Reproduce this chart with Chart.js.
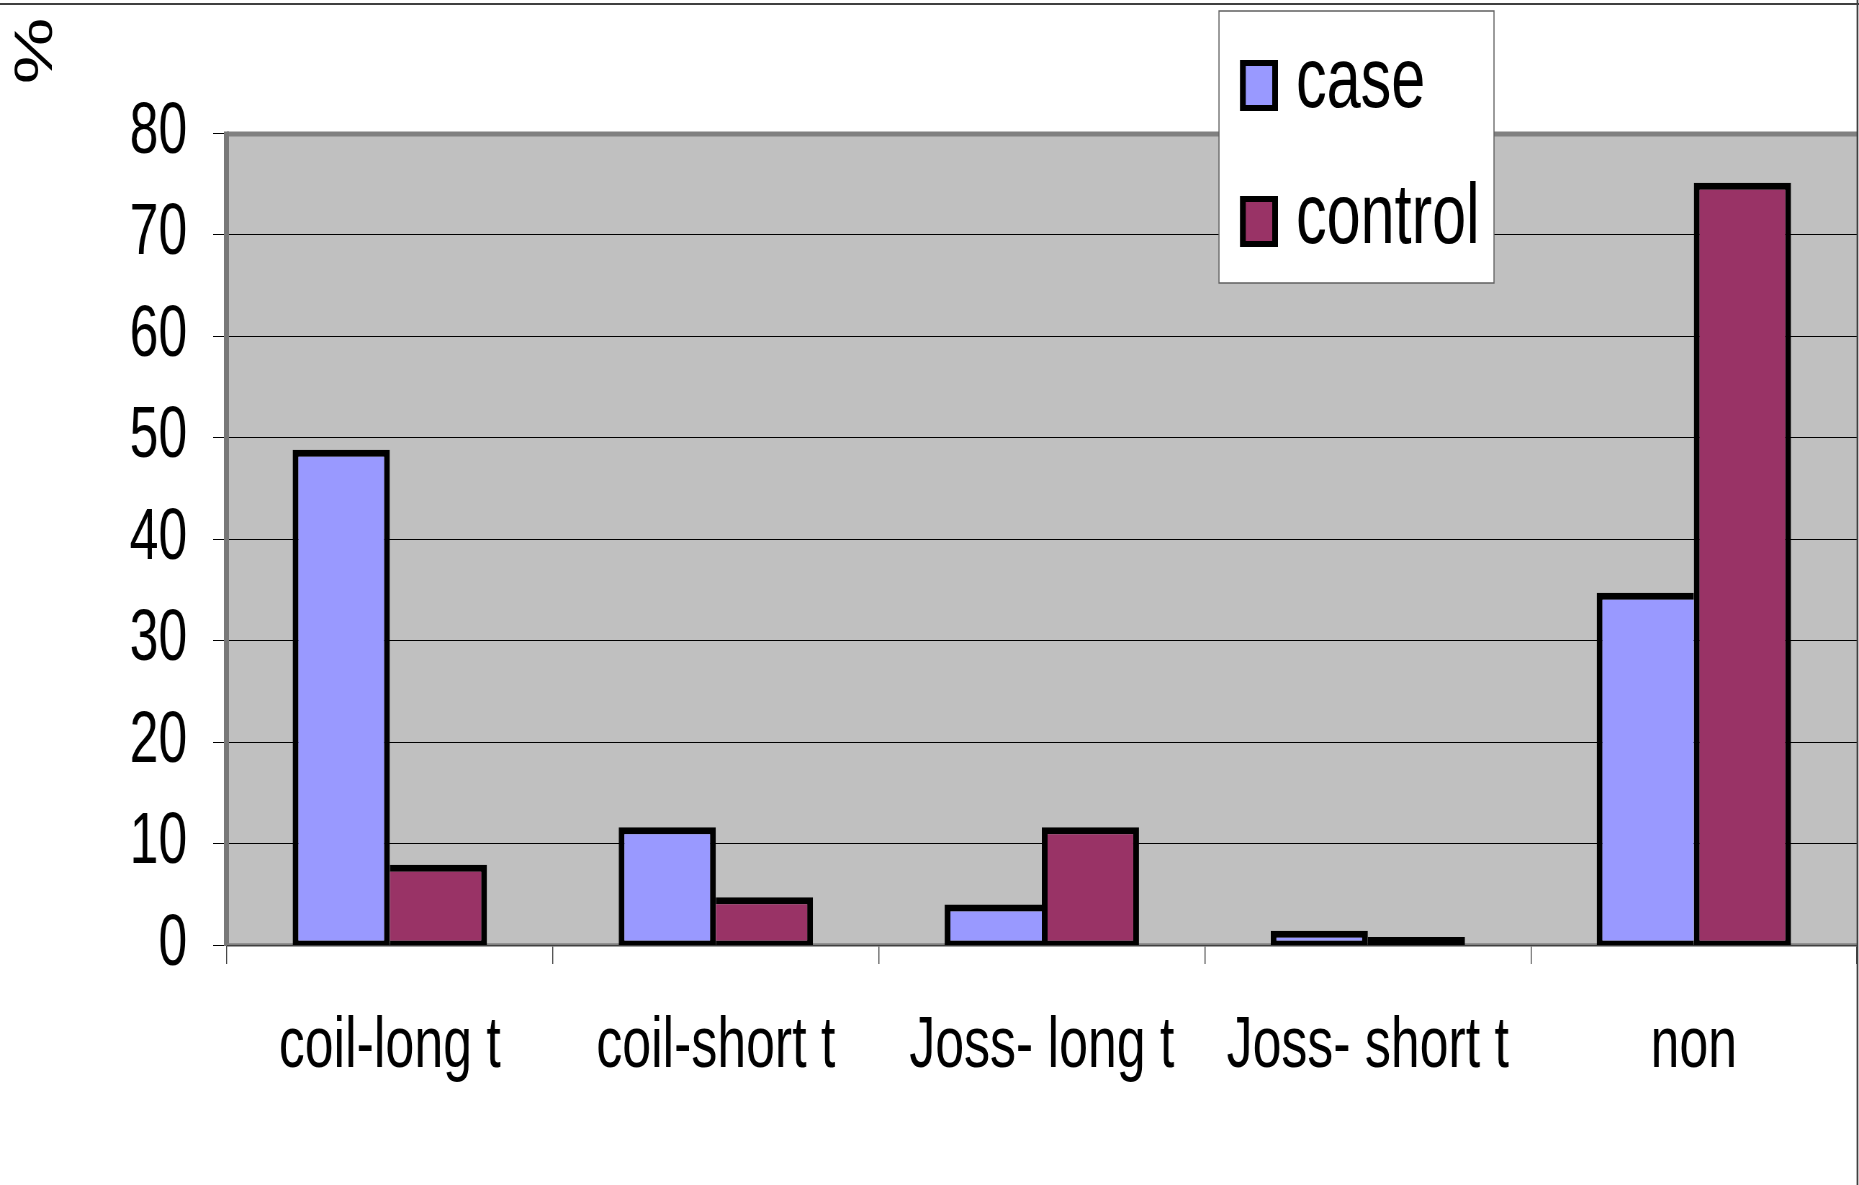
<!DOCTYPE html>
<html>
<head>
<meta charset="utf-8">
<script src="https://cdn.jsdelivr.net/npm/chart.js@4.4.1/dist/chart.umd.min.js"></script>
<style>
  html, body { margin: 0; padding: 0; background: #fff; overflow: hidden; }
  #chart { display: block; }
</style>
</head>
<body>
<canvas id="chart" width="2582" height="1185" style="width:1859px;height:1185px"></canvas>
<script>
const categories = ['coil-long t', 'coil-short t', 'Joss- long t', 'Joss- short t', 'non'];
const caseValues = [48.8, 11.6, 4.0, 1.4, 34.7];
const controlValues = [7.9, 4.7, 11.6, 0.8, 75.1];
const yTicks = [0, 10, 20, 30, 40, 50, 60, 70, 80];
const seriesNames = ['case', 'control'];
const seriesColors = ['#9999FF', '#993366'];
const unitLabel = '%';

// the source picture is squeezed sideways: draw on a wider canvas, show it at 1859px
const SQUEEZE = 0.72;
const sx = v => v / SQUEEZE;

const FONT = "'Liberation Sans', Arial, sans-serif";
const SIDE_W = 8;   // vertical bar edges (canvas px, get squeezed)
const CAP_W = 7;    // top / bottom bar edges

// the taller bar of a pair owns the shared edge, like the excel original
function barBorder(ctx) {
    const i = ctx.dataIndex;
    const c = caseValues[i], k = controlValues[i];
    if (ctx.datasetIndex === 0) {
        return {top: CAP_W, bottom: CAP_W, left: SIDE_W, right: c >= k ? SIDE_W : 0};
    }
    return {top: CAP_W, bottom: CAP_W, left: k > c ? SIDE_W : 0, right: SIDE_W};
}

function hline(ctx, x1, x2, y) {
    ctx.beginPath();
    ctx.moveTo(x1, y);
    ctx.lineTo(x2, y);
    ctx.stroke();
}

function vline(ctx, x, y1, y2) {
    ctx.beginPath();
    ctx.moveTo(x, y1);
    ctx.lineTo(x, y2);
    ctx.stroke();
}

const plotFrame = {
    id: 'plotFrame',
    beforeDraw(chart) {
        const {ctx, chartArea: a} = chart;
        ctx.save();
        ctx.fillStyle = '#C0C0C0';
        ctx.fillRect(a.left, a.top, a.right - a.left, a.bottom - a.top);
        ctx.restore();
    },
    beforeDatasetsDraw(chart) {
        const {ctx, chartArea: a} = chart;
        ctx.save();
        ctx.strokeStyle = '#808080';
        ctx.lineWidth = 5;
        hline(ctx, a.left, a.right, a.top + 1);
        ctx.strokeStyle = '#787878';
        ctx.lineWidth = 7;
        vline(ctx, a.left - 0.5, a.top - 1.5, a.bottom + 1);
        ctx.strokeStyle = '#808080';
        ctx.lineWidth = 3.5;
        hline(ctx, a.left, a.right, a.bottom);
        ctx.strokeStyle = '#404040';
        ctx.lineWidth = 1;
        hline(ctx, a.left, a.right, a.bottom + 0.5);
        ctx.restore();
    },
    afterDraw(chart) {
        const {ctx, width, height} = chart;
        ctx.save();
        // frame of the original picture (top and right edges)
        ctx.strokeStyle = '#404040';
        ctx.lineWidth = 2;
        hline(ctx, 0, width, 4);
        ctx.lineWidth = 2.5;
        vline(ctx, sx(1857.5), 0, height);

        // unit label, turned upright
        ctx.translate(sx(37), 51);
        ctx.rotate(-Math.PI / 2);
        ctx.fillStyle = '#000';
        ctx.font = '75px ' + FONT;
        ctx.textAlign = 'center';
        ctx.textBaseline = 'middle';
        ctx.fillText(unitLabel, 0, 0);
        ctx.restore();
    }
};

const boxLegend = {
    id: 'boxLegend',
    afterDraw(chart) {
        const ctx = chart.ctx;
        const left = sx(1219), right = sx(1494), top = 11, bottom = 283;
        ctx.save();
        ctx.fillStyle = '#fff';
        ctx.fillRect(left, top, right - left, bottom - top);
        ctx.strokeStyle = '#606060';
        ctx.lineWidth = 1.5;
        ctx.strokeRect(left, top, right - left, bottom - top);

        const rows = [{top: 60, base: 107}, {top: 196, base: 243}];
        chart.data.datasets.forEach((ds, i) => {
            const r = rows[i];
            const x = sx(1240), w = sx(38), h = 51;
            ctx.fillStyle = '#000';
            ctx.fillRect(x, r.top, w, h);
            ctx.fillStyle = ds.backgroundColor;
            ctx.fillRect(x + 8, r.top + 6, w - 16, h - 12);
            ctx.fillStyle = '#000';
            ctx.font = '85px ' + FONT;
            ctx.textAlign = 'left';
            ctx.textBaseline = 'alphabetic';
            ctx.fillText(ds.label, sx(1296), r.base);
        });
        ctx.restore();
    }
};

const ctx = document.getElementById('chart');

new Chart(ctx, {
    type: 'bar',
    data: {
        labels: categories,
        datasets: [
            {label: seriesNames[0], data: caseValues, backgroundColor: seriesColors[0]},
            {label: seriesNames[1], data: controlValues, backgroundColor: seriesColors[1]}
        ]
    },
    options: {
        responsive: false,
        devicePixelRatio: 1,
        animation: false,
        layout: {padding: {top: 133, right: 3, bottom: 0, left: 0}},
        datasets: {
            bar: {
                categoryPercentage: 0.596,
                barPercentage: 1,
                base: -0.25,   // excel centres the outline on the axis, so the box dips a little below 0
                borderColor: '#000',
                borderWidth: barBorder,
                borderSkipped: false
            }
        },
        plugins: {
            legend: {display: false},
            tooltip: {enabled: false},
            title: {display: false}
        },
        scales: {
            x: {
                grid: {drawOnChartArea: false, drawTicks: true, tickLength: 19, color: '#404040', lineWidth: 1.4},
                border: {display: false},
                ticks: {
                    color: '#000',
                    font: {family: FONT, size: 72},
                    padding: 40,
                    maxRotation: 0,
                    minRotation: 0,
                    autoSkip: false
                },
                afterFit: function (scale) { scale.height = 240; }
            },
            y: {
                min: 0,
                max: 80,
                afterBuildTicks: function (scale) {
                    scale.ticks = yTicks.map(v => ({value: v}));
                },
                grid: {color: '#000', lineWidth: 1, drawTicks: true, tickLength: 19, tickColor: '#000'},
                border: {display: false},
                ticks: {
                    color: '#000',
                    font: {family: FONT, size: 72},
                    padding: 36,
                    autoSkip: false
                },
                afterFit: function (scale) { scale.width = 315; }
            }
        }
    },
    plugins: [plotFrame, boxLegend]
});
</script>
</body>
</html>
